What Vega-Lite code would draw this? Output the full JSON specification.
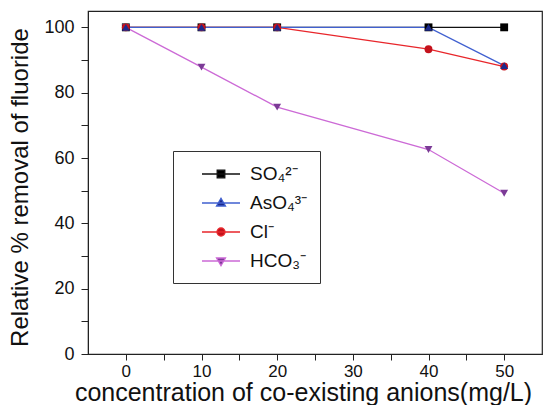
{
  "$schema": "https://vega.github.io/schema/vega-lite/v6.json",
  "width": 454,
  "height": 343,
  "autosize": "none",
  "padding": {"left": 88, "top": 11, "right": 5, "bottom": 51},
  "background": "white",
  "config": {
    "font": "Liberation Sans",
    "view": {"stroke": "#222", "strokeWidth": 1.2},
    "axis": {"grid": false, "domainColor": "#222", "tickColor": "#222", "labelColor": "#111", "titleColor": "#111", "labelFont": "Liberation Sans", "titleFont": "Liberation Sans", "titleFontWeight": "normal"},
    "legend": {"title": null, "orient": "none", "legendX": 85, "legendY": 140, "labelFontSize": 19, "labelFont": "Liberation Sans", "labelColor": "#111", "symbolSize": 400, "symbolStrokeWidth": 1.3, "symbolOpacity": 1, "labelOffset": 18, "symbolOffset": 25, "padding": 12, "rowPadding": 8, "strokeColor": "#333", "fillColor": "white"}
  },
  "data": {
    "values": [
      {"s": "SO4", "x": 0, "y": 100}, {"s": "SO4", "x": 10, "y": 100}, {"s": "SO4", "x": 20, "y": 100}, {"s": "SO4", "x": 40, "y": 100}, {"s": "SO4", "x": 50, "y": 100},
      {"s": "HCO3", "x": 0, "y": 100}, {"s": "HCO3", "x": 10, "y": 87.8}, {"s": "HCO3", "x": 20, "y": 75.6}, {"s": "HCO3", "x": 40, "y": 62.6}, {"s": "HCO3", "x": 50, "y": 49.2},
      {"s": "Cl", "x": 0, "y": 100}, {"s": "Cl", "x": 10, "y": 100}, {"s": "Cl", "x": 20, "y": 100}, {"s": "Cl", "x": 40, "y": 93.3}, {"s": "Cl", "x": 50, "y": 88},
      {"s": "AsO4", "x": 0, "y": 100}, {"s": "AsO4", "x": 10, "y": 100}, {"s": "AsO4", "x": 20, "y": 100}, {"s": "AsO4", "x": 40, "y": 100}, {"s": "AsO4", "x": 50, "y": 88.3}
    ]
  },
  "encoding": {
    "x": {
      "field": "x", "type": "quantitative",
      "scale": {"domain": [-5, 55], "nice": false, "zero": false},
      "axis": {
        "values": [0, 5, 10, 15, 20, 25, 30, 35, 40, 45, 50],
        "labelExpr": "datum.value % 10 === 0 ? datum.label : ''",
        "labelFontSize": 17, "labelPadding": 3, "tickSize": 6,
        "encode": {"ticks": {"y2": {"value": {"expr": "datum.value % 10 === 0 ? 6 : 3.5"}}}},
        "title": "concentration of co-existing anions(mg/L)",
        "titleFontSize": 25, "titleX": 215, "titleY": 46, "titleBaseline": "alphabetic", "titleAlign": "center"
      }
    },
    "y": {
      "field": "y", "type": "quantitative",
      "scale": {"domain": [0, 105], "nice": false, "zero": true},
      "axis": {
        "values": [0, 10, 20, 30, 40, 50, 60, 70, 80, 90, 100],
        "labelExpr": "datum.value % 20 === 0 ? datum.label : ''",
        "labelFontSize": 18, "labelPadding": 7, "tickSize": 7,
        "encode": {"ticks": {"x2": {"value": {"expr": "datum.value % 20 === 0 ? -7 : -4"}}}},
        "title": "Relative % removal of fluoride",
        "titleFontSize": 24, "titleAngle": -90, "titleX": -68, "titleY": 176, "titleBaseline": "middle", "titleAlign": "center"
      }
    }
  },
  "layer": [
    {
      "mark": {"type": "line", "strokeWidth": 1.3},
      "encoding": {
        "color": {"field": "s", "type": "nominal", "scale": {"domain": ["SO4", "AsO4", "Cl", "HCO3"], "range": ["#111111", "#4060d0", "#e8262b", "#cc6ad6"]}, "legend": null}
      }
    },
    {
      "mark": {"type": "point", "filled": true, "opacity": 1, "size": 62},
      "encoding": {
        "color": {"field": "s", "type": "nominal", "scale": {"domain": ["SO4", "AsO4", "Cl", "HCO3"], "range": ["#000000", "#1c2a8c", "#c4121c", "#7b3a96"]}, "legend": null},
        "shape": {"field": "s", "type": "nominal", "scale": {"domain": ["SO4", "AsO4", "Cl", "HCO3"], "range": ["square", "triangle-up", "circle", "triangle-down"]}, "legend": null}
      }
    },
    {
      "mark": {"type": "point", "opacity": 0, "strokeWidth": 1.3},
      "encoding": {
        "fill": {
          "field": "s", "type": "nominal",
          "scale": {"domain": ["SO4", "AsO4", "Cl", "HCO3"], "range": ["#000000", "#1c2a8c", "#c4121c", "#7b3a96"]},
          "legend": {"labelExpr": "datum.value === 'SO4' ? 'SO₄²⁻' : datum.value === 'AsO4' ? 'AsO₄³⁻\u00a0\u00a0\u00a0\u00a0' : datum.value === 'Cl' ? 'Cl⁻' : 'HCO₃⁻'"}
        },
        "stroke": {
          "field": "s", "type": "nominal",
          "scale": {"domain": ["SO4", "AsO4", "Cl", "HCO3"], "range": ["#111111", "#4060d0", "#e8262b", "#cc6ad6"]},
          "legend": {"labelExpr": "datum.value === 'SO4' ? 'SO₄²⁻' : datum.value === 'AsO4' ? 'AsO₄³⁻\u00a0\u00a0\u00a0\u00a0' : datum.value === 'Cl' ? 'Cl⁻' : 'HCO₃⁻'"}
        },
        "shape": {
          "field": "s", "type": "nominal",
          "scale": {"domain": ["SO4", "AsO4", "Cl", "HCO3"], "range": [
            "M-1.9,0H1.9M-0.38,-0.38H0.38V0.38H-0.38Z",
            "M-1.9,0H1.9M0,-0.48L0.45,0.3H-0.45Z",
            "M-1.9,0H1.9M0.4,0A0.4,0.4,0,1,1,-0.4,0A0.4,0.4,0,1,1,0.4,0Z",
            "M-1.9,0H1.9M0,0.48L0.45,-0.3H-0.45Z"
          ]},
          "legend": {"labelExpr": "datum.value === 'SO4' ? 'SO₄²⁻' : datum.value === 'AsO4' ? 'AsO₄³⁻\u00a0\u00a0\u00a0\u00a0' : datum.value === 'Cl' ? 'Cl⁻' : 'HCO₃⁻'"}
        }
      }
    }
  ],
  "resolve": {"scale": {"color": "independent", "shape": "independent", "fill": "independent", "stroke": "independent"}}
}
